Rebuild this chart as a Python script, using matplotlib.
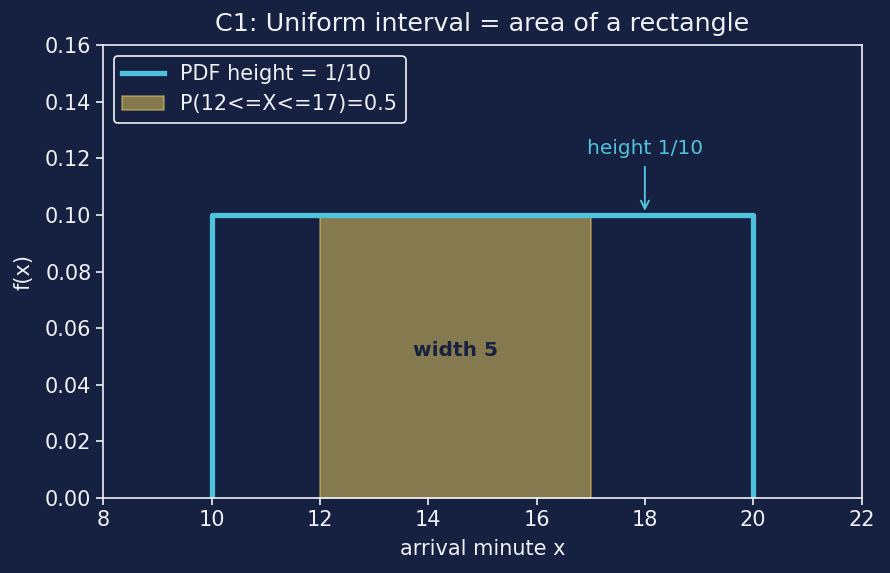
import numpy as np
import matplotlib
matplotlib.use("Agg")
from matplotlib import pyplot as plt

# uniform distribution on [10, 20]
a, b = 10, 20
lo, hi = 12, 17
height = 0.1
pdf_x = [a, a, b, b]
pdf_y = [0, height, height, 0]

BG = "#162040"
FG = "#eef1f7"
CYAN = "#4fc3dc"
GOLD = "#f4d35e"

fig, ax = plt.subplots(figsize=(8.9, 5.73), dpi=100)
fig.patch.set_facecolor(BG)
ax.set_facecolor(BG)

ax.fill_between([lo, hi], 0, height, color=GOLD, alpha=0.5, edgecolor=GOLD,
                linewidth=1.2, label="P(12<=X<=17)=0.5")
ax.plot(pdf_x, pdf_y, color=CYAN, lw=3.8, label="PDF height = 1/10")

ax.annotate("width 5", xy=((lo + hi) / 2, 0.05), xytext=(0, 4),
            textcoords="offset points", ha="center", va="center",
            fontsize=14.5, fontweight="bold", color=BG)
ax.annotate("height 1/10", xy=(18, 0.1), xytext=(18, 0.12),
            ha="center", va="bottom", color=CYAN, fontsize=14.5,
            arrowprops=dict(arrowstyle="->", color=CYAN, lw=1.4,
                            shrinkA=4, shrinkB=3))

ax.set_xlim(8, 22)
ax.set_ylim(0, 0.16)
ax.set_xticks(np.arange(8, 23, 2))
ax.set_yticks(np.arange(0, 0.161, 0.02))
ax.set_xlabel("arrival minute x", color=FG, fontsize=15, labelpad=7)
ax.set_ylabel("f(x)", color=FG, fontsize=15, labelpad=8)
ax.set_title("C1: Uniform interval = area of a rectangle", color=FG,
             fontsize=18.3, pad=10)
ax.tick_params(colors=FG, labelsize=15, length=5, width=1.2)
for s in ax.spines.values():
    s.set_color(FG)
    s.set_linewidth(1.2)

h, l = ax.get_legend_handles_labels()
leg = ax.legend(h[::-1], l[::-1], loc="upper left", fontsize=15,
                facecolor=BG, edgecolor=FG, labelcolor=FG, framealpha=1)
leg.get_frame().set_linewidth(1.2)

fig.subplots_adjust(left=0.116, right=0.968, top=0.921, bottom=0.131)
fig.savefig("out.png", dpi=100, facecolor=BG)
